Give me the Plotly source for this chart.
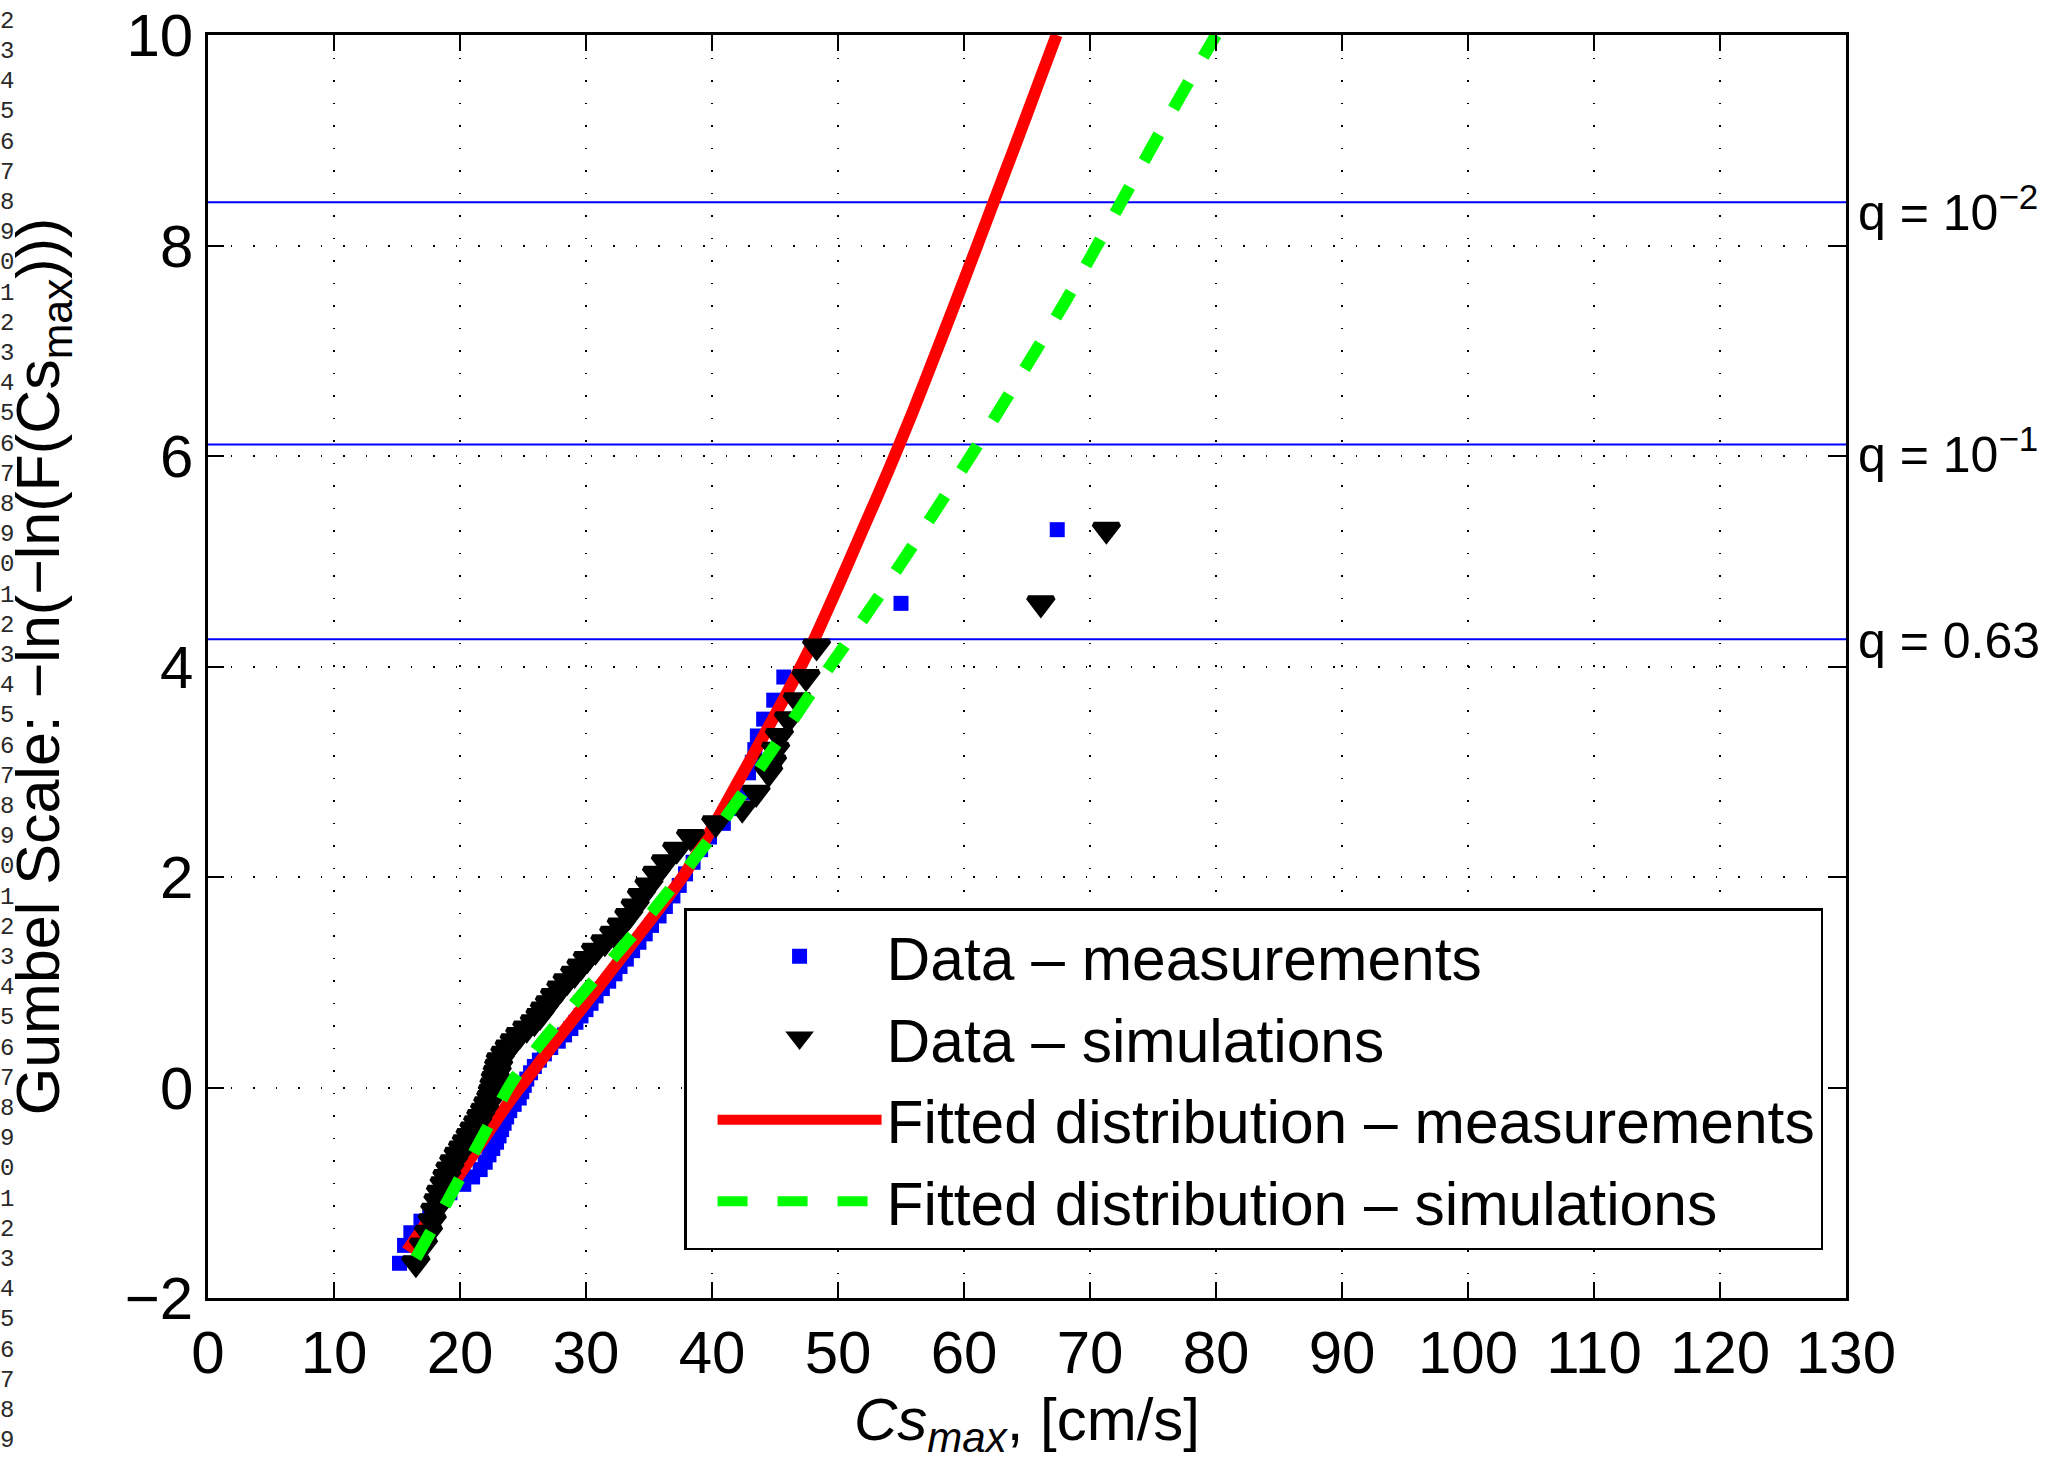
import plotly.graph_objects as go

FONT = "Liberation Sans, Arial, Helvetica, sans-serif"

# Gumbel plotting positions shared by both samples (reduced variate)
plot_pos = [-1.67, -1.50, -1.38, -1.27, -1.17, -1.08, -1.00, -0.92, -0.85, -0.78,
            -0.71, -0.64, -0.58, -0.52, -0.46, -0.40, -0.34, -0.28, -0.22, -0.16,
            -0.10, -0.04, 0.02, 0.08, 0.14, 0.20, 0.26, 0.32, 0.38, 0.44,
            0.50, 0.56, 0.62, 0.68, 0.74, 0.80, 0.87, 0.94, 1.01, 1.08,
            1.15, 1.22, 1.30, 1.38, 1.46, 1.54, 1.63, 1.72, 1.82, 1.92,
            2.03, 2.14, 2.26, 2.38, 2.51, 2.65, 2.80, 2.99, 3.09, 3.21,
            3.34, 3.50, 3.68, 3.90, 4.19, 4.60, 5.30]

# Sorted annual maxima of Cs [cm/s], measurements
meas_cs = [15.2, 15.6, 16.1, 16.9, 17.6, 18.4, 19.2, 20.3, 21.0, 21.6,
           22.0, 22.3, 22.6, 22.9, 23.1, 23.3, 23.5, 23.7, 23.95, 24.3,
           24.7, 24.9, 25.1, 25.3, 25.6, 25.9, 26.3, 26.7, 27.2, 27.8,
           28.3, 28.8, 29.2, 29.6, 30.0, 30.4, 30.8, 31.3, 31.8, 32.3,
           32.7, 33.2, 33.7, 34.2, 34.7, 35.2, 35.8, 36.3, 36.9, 37.4,
           37.9, 38.5, 39.1, 39.8, 40.9, 41.8, 42.5, 42.9, 43.2, 43.4,
           43.6, 44.1, 44.9, 45.7, 48.0, 55.0, 67.4]

# Sorted annual maxima of Cs [cm/s], simulations
sim_cs = [16.5, 17.1, 17.5, 17.8, 18.0, 18.25, 18.45, 18.74, 18.96, 19.2,
          19.5, 19.86, 20.2, 20.5, 20.8, 21.1, 21.4, 21.65, 21.95, 22.2,
          22.44, 22.57, 22.7, 22.8, 22.95, 23.07, 23.2, 23.56, 23.9, 24.3,
          24.74, 25.3, 25.9, 26.35, 26.7, 27.1, 27.5, 28.0, 28.5, 29.1,
          29.6, 30.1, 30.75, 31.5, 32.2, 32.8, 33.4, 33.9, 34.4, 35.0,
          35.6, 36.3, 37.2, 38.3, 40.3, 42.4, 43.5, 44.5, 44.8, 45.05,
          45.35, 46.06, 46.77, 47.46, 48.3, 66.1, 71.3]

# Fitted distribution, measurements
fit_meas_cs = [15.8, 18, 20, 22, 24, 26, 28, 30, 32, 34, 36, 38, 40, 42, 44,
               46, 48, 50, 52, 54, 56, 58, 60, 62, 64, 66, 67.35]
fit_meas_g = [-1.55, -1.17, -0.82, -0.47, -0.12, 0.19, 0.50, 0.80, 1.11, 1.42,
              1.73, 2.06, 2.46, 2.89, 3.32, 3.76, 4.23, 4.76, 5.31, 5.86,
              6.44, 7.05, 7.67, 8.30, 8.93, 9.57, 10.0]

# Fitted distribution, simulations
fit_sim_cs = [16.5, 18, 20, 22, 24, 26, 28, 30, 32, 34, 36, 38, 40, 42, 44,
              46, 48, 50, 52, 54, 56, 58, 60, 62, 64, 66, 68, 70, 72, 74,
              76, 78, 80]
fit_sim_g = [-1.62, -1.30, -0.86, -0.42, 0.03, 0.36, 0.65, 0.93, 1.21, 1.49,
             1.78, 2.08, 2.39, 2.72, 3.07, 3.42, 3.77, 4.11, 4.45, 4.80,
             5.16, 5.53, 5.90, 6.28, 6.67, 7.06, 7.46, 7.88, 8.31, 8.74,
             9.17, 9.59, 10.0]

# Exceedance-probability reference levels
q_levels = [8.41, 6.11, 4.26]
q_labels = ["q = 10<sup>\u22122</sup>", "q = 10<sup>\u22121</sup>", "q = 0.63"]
q_shift = [-7, -7, -2]

x_ticks = list(range(0, 131, 10))
y_ticks = [-2, 0, 2, 4, 6, 8, 10]

# Line numbering printed down the left page margin
margin_numbers = "1234567890123456789012345678901234567890123456789"

fig = go.Figure()

fig.add_trace(go.Scatter(
    x=meas_cs, y=plot_pos, mode="markers", name="Data \u2013 measurements",
    marker=dict(symbol="square", size=15, color="#0000ff", line=dict(width=0)),
    legendrank=1))

fig.add_trace(go.Scatter(
    x=fit_meas_cs, y=fit_meas_g, mode="lines",
    name="Fitted distribution \u2013 measurements",
    line=dict(color="#ff0000", width=12, shape="spline", smoothing=0.8),
    legendrank=3))

# a heavy outline keeps the legend glyph as large as the plotted markers
fig.add_trace(go.Scatter(
    x=sim_cs, y=plot_pos, mode="markers", name="Data \u2013 simulations",
    marker=dict(symbol="triangle-down", size=22, color="#000000",
                line=dict(width=5, color="#000000")),
    legendrank=2))

fig.add_trace(go.Scatter(
    x=fit_sim_cs, y=fit_sim_g, mode="lines",
    name="Fitted distribution \u2013 simulations",
    line=dict(color="#00ff00", width=12, dash="30px,30px", shape="spline",
              smoothing=0.8),
    legendrank=4))

for lvl, lab, sh in zip(q_levels, q_labels, q_shift):
    fig.add_shape(type="line", xref="x domain", x0=0, x1=1, yref="y",
                  y0=lvl, y1=lvl, line=dict(color="#0000ff", width=2),
                  layer="below")
    fig.add_annotation(text=lab, xref="paper", x=1, xanchor="left", xshift=10,
                       yref="y", y=lvl, yanchor="middle", yshift=sh,
                       showarrow=False,
                       font=dict(family=FONT, size=50, color="black"))

H = 1470.0
for k, ch in enumerate(margin_numbers):
    ypix = -9 + 30.2 * k
    fig.add_annotation(text=ch, xref="paper", yref="paper",
                       x=-208 / 1638.0, xanchor="left", xshift=-2,
                       y=(H - 172 - ypix) / 1263.0, yanchor="middle",
                       showarrow=False,
                       font=dict(family="Liberation Mono, Courier New, monospace",
                                 size=24, color="#2a2a2a"))

axis_common = dict(
    showline=True, linecolor="black", linewidth=2.5, mirror="ticks",
    ticks="inside", ticklen=16, tickwidth=2, tickcolor="black",
    showgrid=True, gridcolor="black", gridwidth=1.5, griddash="1.5px,21px",
    zeroline=False, tickfont=dict(family=FONT, size=60, color="black"),
)

fig.update_xaxes(range=[0, 130], tickvals=x_ticks, **axis_common,
                 title=dict(text="<i>Cs</i><sub><i>max</i></sub>, [cm/s]",
                            font=dict(family=FONT, size=60, color="black"),
                            standoff=8))
fig.update_yaxes(range=[-2, 10], tickvals=y_ticks, **axis_common,
                 title=dict(text="Gumbel Scale: \u2212ln(\u2212ln(F(Cs<sub>max</sub>)))",
                            font=dict(family=FONT, size=61, color="black"),
                            standoff=46))

fig.update_layout(
    width=2045, height=1470,
    margin=dict(l=208, r=199, t=35, b=172, autoexpand=False),
    plot_bgcolor="white", paper_bgcolor="white",
    font=dict(family=FONT, color="black"),
    showlegend=True,
    legend=dict(x=0.986, xanchor="right", y=0.038, yanchor="bottom",
                bgcolor="white", bordercolor="black", borderwidth=2.5,
                font=dict(family=FONT, size=60.5, color="black"),
                indentation=26, itemwidth=164, tracegroupgap=0,
                traceorder="normal"),
)

fig.write_html("out.html")
